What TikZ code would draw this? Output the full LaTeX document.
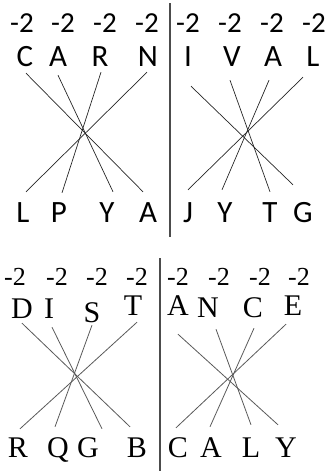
\documentclass[tikz,border=0pt]{standalone}
\usepackage{fontspec}
\newfontfamily\upperfont{Carlito}
\newfontfamily\lowerfont{Liberation Serif}
\usetikzlibrary{calc}
\tikzset{
  upnum/.style={inner sep=0pt, text height=18pt, text depth=0pt,
    font=\upperfont\fontsize{29}{29}\selectfont},
  upletter/.style={inner sep=0pt, text height=20pt, text depth=0pt,
    font=\upperfont\fontsize{31}{31}\selectfont},
  lownum/.style={inner sep=0pt, text height=17pt, text depth=0pt,
    font=\lowerfont\fontsize{26}{26}\selectfont},
  lowletter/.style={inner sep=0pt, text height=20pt, text depth=0pt,
    font=\lowerfont\fontsize{30}{30}\selectfont},
  upcross/.style={draw=black!85, line width=0.7pt},
  lowcross/.style={draw=black!65, line width=0.8pt},
  divider/.style={draw=black!70, line width=1.2pt},
}

\begin{document}
\begin{tikzpicture}[x=1pt, y=-1pt]
  \useasboundingbox (0,0) rectangle (326,471);

  % ============ Upper half: CARN / IVAL ============
  \node[upnum] (un1) at ( 22,23) {-2};
  \node[upnum] (un2) at ( 63,23) {-2};
  \node[upnum] (un3) at (105,23) {-2};
  \node[upnum] (un4) at (147,23) {-2};
  \node[upnum] (un5) at (188,23) {-2};
  \node[upnum] (un6) at (230,23) {-2};
  \node[upnum] (un7) at (272,23) {-2};
  \node[upnum] (un8) at (314,23) {-2};

  \node[upletter] (tc) at ( 25,56) {C};
  \node[upletter] (ta) at ( 58,56) {A};
  \node[upletter] (tr) at (100,56) {R};
  \node[upletter] (tn) at (148,56) {N};
  \node[upletter] (ti) at (188,56) {I};
  \node[upletter] (tv) at (232,56) {V};
  \node[upletter] (ta2) at (273,56) {A};
  \node[upletter] (tl) at (313,56) {L};

  \node[upletter] (bl) at ( 23,212) {L};
  \node[upletter] (bp) at ( 59,212) {P};
  \node[upletter] (by) at (107,212) {Y};
  \node[upletter] (ba) at (148,212) {A};
  \node[upletter] (bj) at (188,212) {J};
  \node[upletter] (by2) at (225,212) {Y};
  \node[upletter] (bt) at (270,212) {T};
  \node[upletter] (bg) at (303,212) {G};

  \coordinate (upsplit1) at (170,3);
  \coordinate (upsplit2) at (170,237);
  \draw[divider] (upsplit1) -- (upsplit2);

  % crossings, left block
  \draw[upcross] ($(tc.south)+(1,7)$)   -- ($(ba.north)+(-5,-10)$);
  \draw[upcross] ($(ta.south)+(0,9)$)   -- ($(by.north)+(6,-10)$);
  \draw[upcross] ($(tr.south)+(1,6)$)   -- ($(bp.north)+(3,-9)$);
  \draw[upcross] ($(tn.south)+(-1,6)$)  -- ($(bl.north)+(3,-10)$);
  % crossings, right block
  \draw[upcross] ($(ti.south)+(3,20)$)   -- ($(bg.north)+(-10,-17)$);
  \draw[upcross] ($(tv.south)+(-2,14)$)  -- ($(bt.north)+(0,-10)$);
  \draw[upcross] ($(ta2.south)+(-4,14)$) -- ($(by2.north)+(-3,-12)$);
  \draw[upcross] ($(tl.south)+(-10,11)$) -- ($(bj.north)+(0,-12)$);

  % ============ Lower half: DIST / ANCE ============
  \node[lownum] (ln1) at ( 15,277) {-2};
  \node[lownum] (ln2) at ( 57,277) {-2};
  \node[lownum] (ln3) at ( 97,277) {-2};
  \node[lownum] (ln4) at (137,277) {-2};
  \node[lownum] (ln5) at (178,277) {-2};
  \node[lownum] (ln6) at (219,277) {-2};
  \node[lownum] (ln7) at (260,277) {-2};
  \node[lownum] (ln8) at (299,277) {-2};

  \node[lowletter] (td) at ( 22,308) {D};
  \node[lowletter] (ti2) at ( 49,308) {I};
  \node[lowletter] (ts) at ( 92,312) {S};
  \node[lowletter] (tt) at (133,305) {T};
  \node[lowletter] (ta3) at (178,305) {A};
  \node[lowletter] (tn2) at (208,307) {N};
  \node[lowletter] (tc2) at (253,307) {C};
  \node[lowletter] (te) at (293,305) {E};

  \node[lowletter] (br) at ( 18,447) {R};
  \node[lowletter] (bq) at ( 58,447) {Q};
  \node[lowletter] (bg2) at ( 88,447) {G};
  \node[lowletter] (bb) at (137,447) {B};
  \node[lowletter] (bc) at (178,447) {C};
  \node[lowletter] (ba2) at (211,447) {A};
  \node[lowletter] (bl2) at (251,447) {L};
  \node[lowletter] (by3) at (286,447) {Y};

  \coordinate (lowsplit1) at (160,258);
  \coordinate (lowsplit2) at (160,471);
  \draw[divider] (lowsplit1) -- (lowsplit2);

  % crossings, left block
  \draw[lowcross] ($(td.south)+(0,5)$)   -- ($(bb.north)+(-7,-10)$);
  \draw[lowcross] ($(ti2.south)+(3,9)$)  -- ($(bg2.north)+(14,-8)$);
  \draw[lowcross] ($(ts.south)+(0,3)$)   -- ($(bq.north)+(-3,-10)$);
  \draw[lowcross] ($(tt.south)+(4,7)$)   -- ($(br.north)+(2,-8)$);
  % crossings, right block
  \draw[lowcross] ($(ta3.south)+(0,19)$) -- ($(by3.north)+(-8,-12)$);
  \draw[lowcross] ($(tn2.south)+(8,12)$) -- ($(bl2.north)+(0,-12)$);
  \draw[lowcross] ($(tc2.south)+(1,11)$) -- ($(ba2.north)+(-1,-10)$);
  \draw[lowcross] ($(te.south)+(-7,9)$)  -- ($(bc.north)+(-2,-9)$);

\end{tikzpicture}
\end{document}
